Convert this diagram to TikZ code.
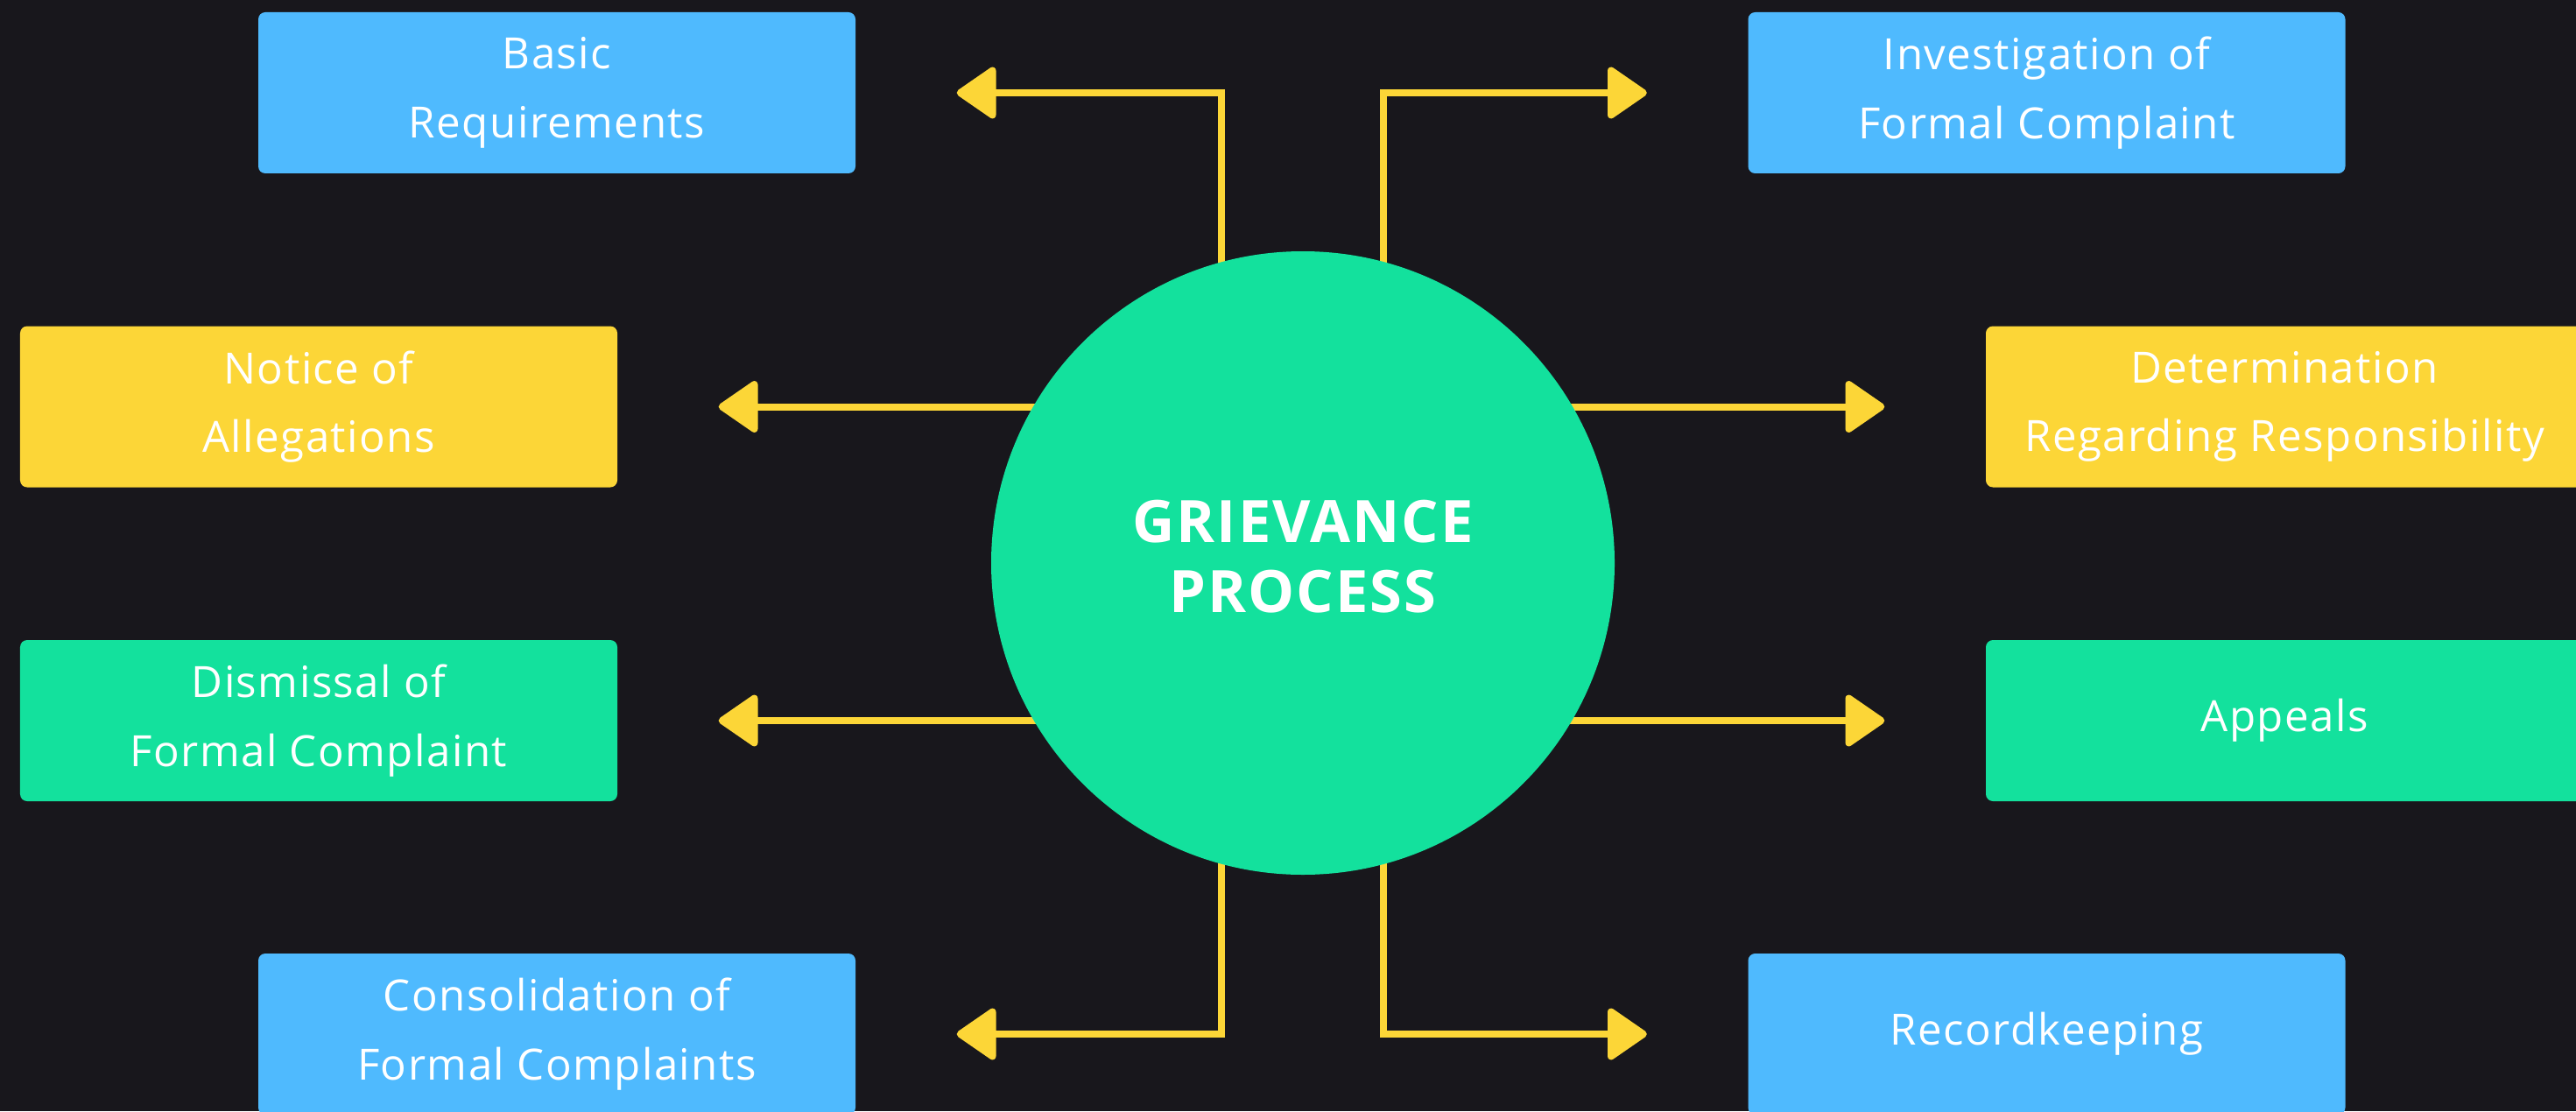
\documentclass[tikz,border=0pt]{standalone}
\usepackage{fontspec}
\setmainfont{Open Sans}[LetterSpace=3]
\usetikzlibrary{arrows.meta}
\definecolor{bgc}{HTML}{18171C}
\definecolor{bluec}{HTML}{4FBAFE}
\definecolor{yelc}{HTML}{FCD637}
\definecolor{grnc}{HTML}{13E19D}
\pgfdeclarelayer{bg}
\pgfdeclarelayer{lines}
\pgfsetlayers{bg,lines,main}
\begin{document}
\begin{tikzpicture}[
  box/.style={rounded corners=0.08cm, minimum width=6.82cm, minimum height=1.84cm,
    align=center, text=white, inner sep=0pt,
    font=\fontsize{14}{22.3}\selectfont},
  bluebox/.style={box, fill=bluec},
  yelbox/.style={box, fill=yelc},
  grnbox/.style={box, fill=grnc},
  hub/.style={circle, fill=grnc, minimum size=7.12cm, inner sep=0pt, align=center,
    text=white, font=\bfseries\fontsize{19}{23}\selectfont},
  arr/.style={draw=yelc, line width=0.08cm,
    -{Triangle[length=0.48cm, width=0.64cm, round]}, shorten >=1.15cm}
]
\useasboundingbox (0,0) rectangle (29.42,12.69);
\begin{pgfonlayer}{bg}
\fill[bgc] (0,0) rectangle (29.42,12.69);
\end{pgfonlayer}

\node[hub] (c) at (14.88,6.26) {\raisebox{0.05cm}{\begin{tabular}{@{}c@{}}GRIEVANCE\\[-0.2pt]PROCESS\end{tabular}}};

\node[bluebox] (basic) at (6.36,11.63) {Basic\\Requirements};
\node[bluebox] (inv) at (23.375,11.63) {Investigation of\\Formal Complaint};
\node[yelbox] (notice) at (3.64,8.045) {Notice of\\Allegations};
\node[yelbox] (det) at (26.09,8.045) {Determination\\Regarding Responsibility};
\node[grnbox] (dis) at (3.64,4.46) {Dismissal of\\Formal Complaint};
\node[grnbox] (app) at (26.09,4.46) {Appeals};
\node[bluebox] (cons) at (6.36,0.88) {Consolidation of\\Formal Complaints};
\node[bluebox] (rec) at (23.375,0.88) {Recordkeeping};

\begin{pgfonlayer}{lines}
\draw[arr] ([xshift=-0.93cm]c.center) |- (basic.east);
\draw[arr] ([xshift=0.92cm]c.center) |- (inv.west);
\draw[arr] (c.center |- notice.east) -- (notice.east);
\draw[arr] (c.center |- det.west) -- (det.west);
\draw[arr] (c.center |- dis.east) -- (dis.east);
\draw[arr] (c.center |- app.west) -- (app.west);
\draw[arr] ([xshift=-0.93cm]c.center) |- (cons.east);
\draw[arr] ([xshift=0.92cm]c.center) |- (rec.west);
\end{pgfonlayer}
\end{tikzpicture}
\end{document}
